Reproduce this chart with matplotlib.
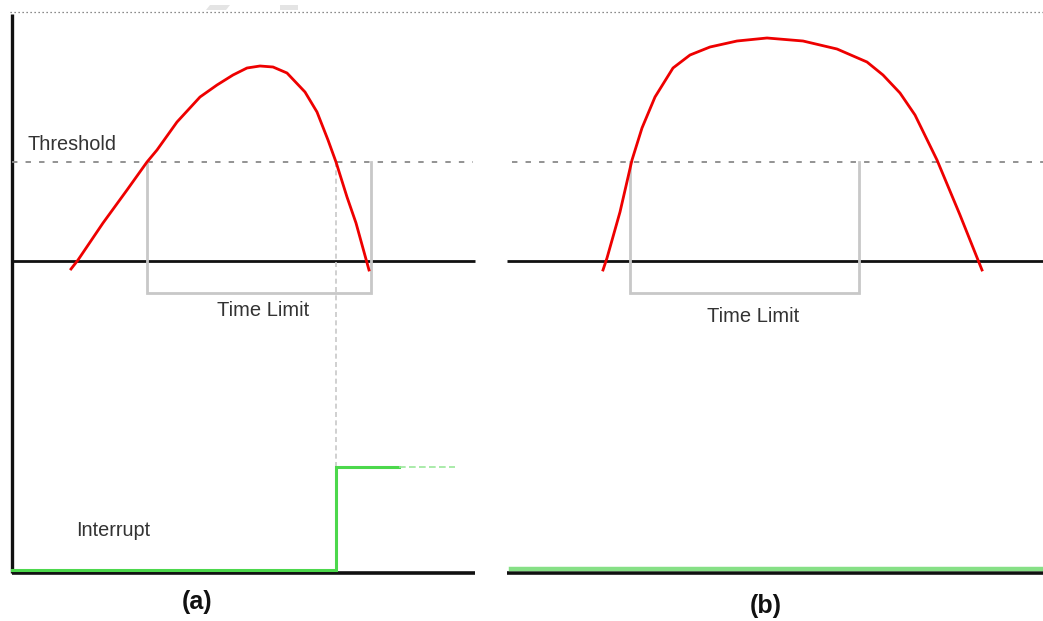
import numpy as np
import matplotlib
matplotlib.use('Agg')
import matplotlib.pyplot as plt

# diagram values, in picture units (x = time, y = level, y grows downward)
baseline_y = 261
threshold_y = 162
bottom_y = 573
top_y = 12

# panel (a) signal
sig_a_x = [71, 78, 103, 127, 147, 157, 177, 200, 217, 233, 247, 260, 273, 287, 305,
           317, 328, 336, 347, 356, 369]
sig_a_y = [269, 260, 223, 190, 162, 150, 122, 97, 85, 75, 68, 66, 67, 73, 92,
           112, 140, 162, 197, 223, 270]

# panel (b) signal
sig_b_x = [603, 607, 620, 632, 642, 655, 673, 690, 710, 737, 767, 803, 837, 867, 883,
           900, 915, 937, 960, 982]
sig_b_y = [270, 258, 212, 160, 128, 97, 68, 55, 47, 41, 38, 41, 49, 62, 75,
           93, 115, 160, 215, 270]

# time limit brackets: start, end, depth
limit_a = [147, 371, 293]
limit_b = [630, 859, 293]

# interrupt output
irq_a_x = [12, 336, 336, 399]
irq_a_y = [570, 570, 467, 467]
irq_a_tail = [399, 455]
irq_b_x = [511, 1043]
irq_b_y = [569, 569]

# panel extents
panel_a = [12, 475]
panel_b = [507, 1043]

fig = plt.figure(figsize=(10.43, 6.21), dpi=100)
ax = fig.add_axes([0, 0, 1, 1])
ax.set_xlim(0, 1043)
ax.set_ylim(621, 0)
ax.axis('off')

text_font = ['Liberation Sans', 'DejaVu Sans']

# top dotted border
ax.plot([10, 1043], [top_y, top_y], color='#666666', lw=0.9, linestyle=(0, (1, 2.2)))
# faint marks at the top edge
ax.fill([210, 230, 226, 206], [5, 5, 10, 10], color='#e4e4e4', lw=0)
ax.fill([280, 298, 298, 280], [5, 5, 10, 10], color='#e4e4e4', lw=0)

# left axis
ax.plot([12, 12], [top_y + 2, bottom_y], color='#111111', lw=2.4, solid_capstyle='butt')

for px in (panel_a, panel_b):
    ax.plot(px, [baseline_y, baseline_y], color='#111111', lw=2.0, solid_capstyle='butt')
    ax.plot(px, [bottom_y, bottom_y], color='#111111', lw=2.6, solid_capstyle='butt')

# threshold lines
ax.plot([12, 473], [threshold_y, threshold_y], color='#8a8a8a', lw=1.3, linestyle=(0, (3, 4.5)))
ax.plot([512, 1043], [threshold_y, threshold_y], color='#8a8a8a', lw=1.3, linestyle=(0, (3, 4.5)))

# time limit brackets
for s, e, d in (limit_a, limit_b):
    ax.plot([s, s, e, e], [threshold_y, d, d, threshold_y], color='#c8c8c8', lw=2.0,
            solid_joinstyle='miter')

# vertical guide from threshold crossing to interrupt
ax.plot([336, 336], [threshold_y, 467], color='#c8c8c8', lw=1.2, linestyle=(0, (3, 2)))

# interrupt lines
ax.plot(irq_a_x, irq_a_y, color='#4cd84c', lw=2.2, solid_joinstyle='miter')
ax.plot(irq_a_tail, [467, 467], color='#9be89b', lw=1.2, linestyle=(0, (4, 2)))
ax.plot(irq_b_x, irq_b_y, color='#86e086', lw=3.2)

# signals
ax.plot(sig_a_x, sig_a_y, color='#ee0000', lw=2.0, solid_joinstyle='round')
ax.plot(sig_b_x, sig_b_y, color='#ee0000', lw=2.0, solid_joinstyle='round')

# labels
ax.text(28, 145, 'Threshold', fontsize=14.3, color='#333333', family=text_font,
        ha='left', va='center')
ax.text(263, 311, 'Time Limit', fontsize=14.5, color='#333333', family=text_font,
        ha='center', va='center')
ax.text(753, 317, 'Time Limit', fontsize=14.5, color='#333333', family=text_font,
        ha='center', va='center')
ax.text(76, 531, 'Interrupt', fontsize=14.3, color='#333333', family=text_font,
        ha='left', va='center')
ax.text(197, 602, '(a)', fontsize=18, fontweight='bold', color='#111111', family=text_font,
        ha='center', va='center')
ax.text(766, 606, '(b)', fontsize=18, fontweight='bold', color='#111111', family=text_font,
        ha='center', va='center')

fig.savefig('out.png', dpi=100)
